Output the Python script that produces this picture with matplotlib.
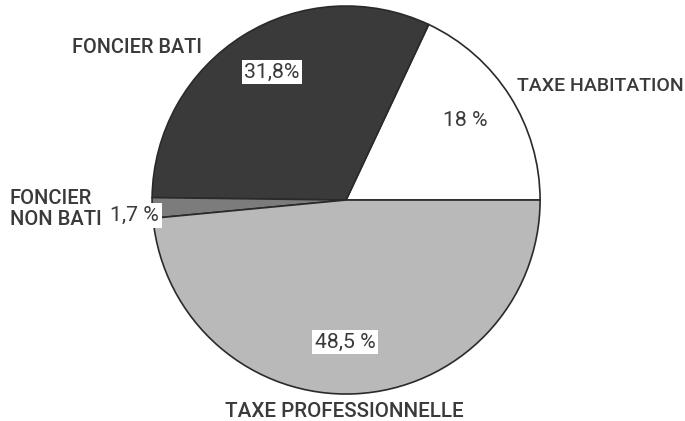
import matplotlib.pyplot as plt

# parts de chaque taxe (%)
categories = ["TAXE HABITATION", "FONCIER BATI", "FONCIER\nNON BATI", "TAXE PROFESSIONNELLE"]
valeurs = [18, 31.8, 1.7, 48.5]
etiquettes = ["18 %", "31,8%", "1,7 %", "48,5 %"]
couleurs = ["#ffffff", "#3a3a3a", "#7c7c7c", "#b9b9b9"]

fig = plt.figure(figsize=(6.85, 4.21), dpi=100)
ax = fig.add_axes([0, 0, 1, 1])

ax.pie(valeurs, colors=couleurs, startangle=0, counterclock=True, radius=1,
       wedgeprops=dict(edgecolor="#2a2a2a", linewidth=1.2))

ax.set_xlim(-1.784, 1.747)
ax.set_ylim(-1.139, 1.031)
ax.set_aspect("equal")
ax.axis("off")

gris = "#3a3a3a"
noms = dict(family="Roboto", weight="medium", color=gris)
pcts = dict(family="Roboto", weight="normal", color="#3a3a3a")

# noms des taxes
ax.text(-1.077, 0.784, categories[1], ha="center", va="center", fontsize=14.3, **noms)
ax.text(1.309, 0.588, categories[0], ha="center", va="center", fontsize=14, **noms)
ax.text(-1.735, -0.046, categories[2], ha="left", va="center", fontsize=14.5,
        linespacing=1.15, **noms)
ax.text(-0.01, -1.09, categories[3], ha="center", va="center", fontsize=14.9, **noms)

# pourcentages
boite = dict(boxstyle="square,pad=0.12", facecolor="white", edgecolor="none")
ax.text(0.613, 0.412, etiquettes[0], ha="center", va="center", fontsize=15.3, **pcts)
ax.text(-0.381, 0.660, etiquettes[1], ha="center", va="center", fontsize=15.3, bbox=boite, **pcts)
ax.text(-1.09, -0.08, etiquettes[2], ha="center", va="center", fontsize=15.3, bbox=boite, **pcts)
ax.text(-0.005, -0.732, etiquettes[3], ha="center", va="center", fontsize=15.3, bbox=boite, **pcts)

fig.savefig("out.png", dpi=100)
